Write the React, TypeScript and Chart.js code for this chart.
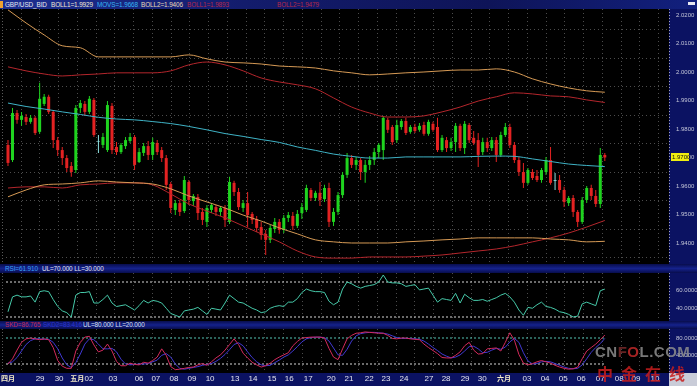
import React, { useEffect, useRef } from "react";
import { Chart, registerables } from "chart.js";

Chart.register(...registerables);

const FONT = '"Liberation Sans", Arial, sans-serif';
const CJK = '"Noto Sans CJK SC", sans-serif';

// ---------------- DATA ----------------
const openP = [
  1.9744, 1.9691, 1.9856, 1.9832, 1.9842, 1.9825, 1.9839, 1.979, 1.9888, 1.9913,
  1.986, 1.9761, 1.9726, 1.9698, 1.967, 1.9656, 1.9874, 1.9888, 1.986, 1.9902,
  1.9758, 1.9744, 1.9726, 1.9881, 1.9737, 1.9719, 1.974, 1.9758, 1.9772, 1.9684,
  1.9716, 1.974, 1.9709, 1.9751, 1.9726, 1.9698, 1.9607, 1.9516, 1.954, 1.9512,
  1.9614, 1.9547, 1.9561, 1.9509, 1.9474, 1.9516, 1.9526, 1.9509, 1.9523, 1.9474,
  1.9611, 1.9579, 1.9523, 1.954, 1.9502, 1.9484, 1.9456, 1.9432, 1.9411, 1.9449,
  1.9474, 1.9446, 1.9488, 1.9495, 1.946, 1.9505, 1.9516, 1.9586, 1.9558, 1.9576,
  1.9554, 1.9593, 1.9474, 1.9509, 1.9568, 1.9639, 1.9698, 1.9674, 1.9691, 1.9649,
  1.9674, 1.9691, 1.9719, 1.9726, 1.9832, 1.9807, 1.9761, 1.9807, 1.9828, 1.979,
  1.9807, 1.9797, 1.9814, 1.9783, 1.9818, 1.9807, 1.9726, 1.9761, 1.9733, 1.9754,
  1.9811, 1.9733, 1.9814, 1.9769, 1.9761, 1.9719, 1.9754, 1.9733, 1.9761, 1.9709,
  1.9779, 1.9807, 1.9744, 1.9691, 1.9649, 1.9611, 1.9649, 1.9635, 1.9621, 1.9649,
  1.9691, 1.9621, 1.9621, 1.9586, 1.954, 1.9558, 1.9509, 1.9474, 1.9551, 1.9593,
  1.9565, 1.9537, 1.9709,
];
const highP = [
  1.9761, 1.9874, 1.9867, 1.986, 1.9853, 1.9849, 1.9846, 1.9962, 1.9923, 1.992,
  1.9867, 1.9772, 1.9737, 1.9709, 1.9684, 1.9884, 1.9902, 1.9898, 1.9916, 1.9909,
  1.9779, 1.9786, 1.9898, 1.9891, 1.9754, 1.9751, 1.9772, 1.9786, 1.9779, 1.9733,
  1.9751, 1.9758, 1.9769, 1.9761, 1.9737, 1.9709, 1.9614, 1.9551, 1.9551, 1.9635,
  1.9621, 1.9572, 1.9572, 1.9523, 1.9533, 1.954, 1.9533, 1.953, 1.9533, 1.9632,
  1.9618, 1.9593, 1.9551, 1.9579, 1.9509, 1.9495, 1.9474, 1.9446, 1.9463, 1.9488,
  1.9484, 1.9498, 1.9509, 1.9509, 1.9516, 1.954, 1.9604, 1.9593, 1.9583, 1.9614,
  1.9604, 1.9611, 1.9523, 1.9579, 1.9649, 1.9716, 1.9709, 1.9702, 1.9698, 1.9691,
  1.9705, 1.9733, 1.9751, 1.9846, 1.9839, 1.9814, 1.9832, 1.9835, 1.9839, 1.9814,
  1.9818, 1.9821, 1.9825, 1.9832, 1.9825, 1.9839, 1.9779, 1.9772, 1.9769, 1.9821,
  1.9818, 1.9828, 1.9821, 1.9793, 1.9786, 1.9769, 1.9769, 1.9772, 1.9772, 1.979,
  1.9821, 1.9818, 1.9754, 1.9702, 1.9681, 1.9663, 1.966, 1.9656, 1.9663, 1.9702,
  1.9737, 1.9646, 1.9639, 1.9597, 1.9565, 1.9568, 1.9516, 1.9561, 1.96, 1.9604,
  1.9586, 1.9733, 1.9716,
];
const lowP = [
  1.967, 1.9684, 1.9818, 1.9811, 1.9814, 1.9818, 1.9779, 1.9783, 1.9881, 1.9853,
  1.9733, 1.9705, 1.9674, 1.9649, 1.9632, 1.9646, 1.9856, 1.9846, 1.9853, 1.9772,
  1.9716, 1.9733, 1.9719, 1.9712, 1.9709, 1.9712, 1.973, 1.9751, 1.9656, 1.9681,
  1.9705, 1.9691, 1.9691, 1.9709, 1.9684, 1.9586, 1.9505, 1.9498, 1.9495, 1.9505,
  1.9533, 1.953, 1.9481, 1.9463, 1.9456, 1.9505, 1.9495, 1.9495, 1.9456, 1.9467,
  1.9565, 1.9516, 1.9509, 1.9456, 1.9467, 1.9439, 1.9411, 1.9358, 1.94, 1.9435,
  1.9432, 1.9435, 1.9474, 1.9446, 1.9453, 1.9484, 1.9509, 1.9547, 1.9547, 1.953,
  1.9544, 1.9456, 1.946, 1.9498, 1.9558, 1.9628, 1.9663, 1.9656, 1.9621, 1.9611,
  1.9656, 1.9674, 1.9698, 1.9691, 1.9786, 1.9744, 1.9751, 1.9797, 1.9779, 1.9783,
  1.9786, 1.979, 1.9776, 1.9776, 1.979, 1.9719, 1.9719, 1.9719, 1.9723, 1.9719,
  1.9723, 1.9712, 1.9751, 1.9744, 1.9667, 1.9709, 1.9719, 1.9723, 1.9684, 1.9702,
  1.9772, 1.9733, 1.9681, 1.9635, 1.9593, 1.9604, 1.9621, 1.9614, 1.9611, 1.9639,
  1.9604, 1.9586, 1.9576, 1.9526, 1.953, 1.9491, 1.9456, 1.9467, 1.954, 1.9551,
  1.9526, 1.9523, 1.9688,
];
const closeP = [
  1.9681, 1.9856, 1.9832, 1.9846, 1.9825, 1.9839, 1.9786, 1.9906, 1.9913, 1.986,
  1.9761, 1.9726, 1.9698, 1.9663, 1.9649, 1.9874, 1.9891, 1.986, 1.9906, 1.9779,
  1.9756, 1.9772, 1.9884, 1.9726, 1.9719, 1.9744, 1.9761, 1.9772, 1.9674, 1.9719,
  1.974, 1.9709, 1.9754, 1.9719, 1.9698, 1.9604, 1.9523, 1.954, 1.9509, 1.9621,
  1.9551, 1.9565, 1.9505, 1.9481, 1.9523, 1.9533, 1.9509, 1.9523, 1.9481, 1.9614,
  1.9579, 1.9526, 1.954, 1.9498, 1.9481, 1.9453, 1.9428, 1.9411, 1.9453, 1.9474,
  1.9446, 1.9488, 1.9498, 1.946, 1.9502, 1.9526, 1.9593, 1.9558, 1.9576, 1.9551,
  1.9593, 1.9474, 1.9509, 1.9568, 1.9639, 1.9698, 1.9674, 1.9691, 1.9649, 1.9674,
  1.9691, 1.9719, 1.9744, 1.9839, 1.9797, 1.9754, 1.9814, 1.9828, 1.9786, 1.9807,
  1.9793, 1.9811, 1.9783, 1.9825, 1.9797, 1.9726, 1.9769, 1.9733, 1.9754, 1.9811,
  1.9733, 1.9818, 1.9761, 1.9751, 1.9709, 1.9754, 1.9733, 1.9761, 1.9709, 1.9779,
  1.9807, 1.9744, 1.9691, 1.9649, 1.9611, 1.9656, 1.9628, 1.9621, 1.9656, 1.9691,
  1.9611, 1.9618, 1.9586, 1.9544, 1.9558, 1.9509, 1.9474, 1.9551, 1.9593, 1.9565,
  1.9537, 1.9709, 1.97,
];

// indicator samples (every 4th bar)
const bandIdx = [
  0, 4, 8, 12, 16, 20, 24, 28, 32, 36, 40, 44, 48, 52, 56, 60, 64, 68, 72, 76,
  80, 84, 88, 92, 96, 100, 104, 108, 112, 116, 120, 124, 128, 132,
];
const boll1Upper = [
  2.0218, 2.0172, 2.013, 2.0092, 2.0085, 2.0053, 2.0053, 2.0053, 2.0053, 2.0053,
  2.006, 2.0046, 2.0035, 2.0032, 2.0028, 2.0021, 2.0018, 2.0014, 2.0004, 1.9997,
  1.999, 1.9993, 1.9997, 2.0, 2.0004, 2.0007, 2.0007, 2.0011, 2.0, 1.9976,
  1.9958, 1.9944, 1.9934, 1.9929,
];
const boll1Lower = [
  1.9562, 1.9586, 1.9604, 1.9607, 1.9611, 1.9618, 1.9614, 1.9611, 1.9607, 1.959,
  1.9565, 1.9544, 1.9523, 1.9498, 1.9477, 1.9453, 1.9432, 1.9411, 1.9404, 1.94,
  1.94, 1.94, 1.9404, 1.9407, 1.9411, 1.9414, 1.9418, 1.9418, 1.9418, 1.9418,
  1.9414, 1.9411, 1.9404, 1.9406,
];
const boll2Upper = [
  2.0018, 2.0004, 1.9993, 1.9986, 1.999, 1.9993, 1.9997, 1.9997, 1.9997, 2.0004,
  2.0025, 2.0035, 2.0025, 2.0004, 1.9979, 1.9965, 1.9955, 1.9941, 1.9909, 1.9877,
  1.9856, 1.9842, 1.9842, 1.9846, 1.986, 1.9877, 1.9898, 1.9913, 1.9927, 1.9923,
  1.9916, 1.9913, 1.9902, 1.9893,
];
const boll2Lower = [
  1.9593, 1.9597, 1.9597, 1.9593, 1.9604, 1.9607, 1.9611, 1.9611, 1.9604, 1.9572,
  1.9537, 1.9512, 1.9488, 1.946, 1.9432, 1.9404, 1.9372, 1.9351, 1.9347, 1.9347,
  1.9351, 1.9351, 1.9351, 1.9354, 1.9358, 1.9365, 1.9372, 1.9379, 1.939, 1.9404,
  1.9418, 1.9435, 1.9456, 1.9479,
];
const movs = [
  1.9891, 1.9879, 1.987, 1.986, 1.9851, 1.9841, 1.9835, 1.9832, 1.9826, 1.9819,
  1.9809, 1.9797, 1.9784, 1.9774, 1.9763, 1.9753, 1.9737, 1.9725, 1.9712, 1.9704,
  1.9698, 1.9698, 1.9702, 1.9702, 1.9702, 1.9702, 1.9704, 1.9705, 1.9704, 1.9695,
  1.9686, 1.9677, 1.9672, 1.9668,
];

const rsiValues = [
  36, 53, 55, 53, 53, 54, 47, 59, 60, 59,
  50, 42, 37, 35, 30, 55, 58, 58, 59, 46,
  46, 50, 55, 46, 42, 43, 44, 41, 38, 43,
  49, 46, 49, 48, 46, 40, 34, 32, 30, 37,
  38, 39, 41, 37, 33, 40, 39, 38, 46, 55,
  51, 47, 46, 43, 40, 38, 35, 36, 40, 42,
  43, 42, 47, 47, 51, 58, 62, 60, 59, 59,
  58, 48, 44, 47, 62, 70, 68, 65, 63, 65,
  66, 67, 70, 78, 70, 69, 69, 68, 65, 66,
  67, 61, 62, 63, 55, 47, 51, 50, 49, 57,
  46, 56, 52, 49, 49, 50, 48, 50, 52, 55,
  57, 53, 47, 38, 32, 41, 40, 44, 47, 42,
  41, 39, 36, 35, 33, 30, 31, 45, 47, 45,
  43, 60, 61.91,
];
const kdK = [
  20, 32, 52, 70, 78, 80, 78, 76, 78, 76,
  58, 28, 15, 10, 10, 50, 70, 82, 84, 64,
  48, 52, 66, 50, 26, 16, 16, 22, 19, 18,
  24, 22, 28, 36, 55, 40, 14, 7, 8, 10,
  12, 13, 18, 21, 17, 25, 34, 41, 52, 65,
  78, 65, 45, 34, 24, 18, 13, 16, 22, 30,
  36, 41, 46, 62, 72, 80, 81, 82, 82, 82,
  80, 56, 36, 30, 55, 78, 86, 91, 92, 94,
  93, 92, 91, 91, 86, 79, 78, 80, 80, 78,
  77, 76, 66, 58, 51, 44, 35, 34, 34, 40,
  48, 62, 70, 52, 43, 44, 55, 56, 57, 50,
  70, 92, 75, 42, 22, 18, 21, 25, 28, 25,
  22, 17, 13, 10, 8, 9, 13, 32, 50, 58,
  66, 76, 86.77,
];
const kdD = [
  22, 25, 35, 50, 65, 74, 78, 78, 77, 77,
  70, 55, 34, 18, 12, 23, 43, 66, 78, 76,
  66, 55, 55, 56, 48, 31, 20, 18, 19, 20,
  20, 21, 25, 29, 40, 44, 36, 20, 10, 8,
  10, 12, 14, 17, 19, 21, 26, 33, 42, 53,
  65, 69, 62, 48, 35, 25, 18, 16, 17, 23,
  29, 36, 41, 50, 60, 71, 78, 81, 82, 82,
  81, 73, 57, 41, 40, 54, 73, 85, 90, 92,
  93, 93, 92, 91, 89, 85, 81, 79, 79, 79,
  78, 77, 73, 66, 58, 51, 43, 38, 34, 36,
  41, 50, 60, 61, 55, 46, 47, 52, 56, 54,
  59, 71, 79, 70, 46, 27, 20, 21, 25, 26,
  25, 21, 17, 13, 10, 9, 10, 18, 32, 47,
  58, 67, 79,
];

const rsiUL = 70;
const rsiLL = 30;
const kdUL = 80;
const kdLL = 20;

const dayLabels = [
  "四月", "29", "30", "五月", "02", "03", "06", "07", "08", "09", "10", "13",
  "14", "15", "16", "17", "20", "21", "22", "23", "24", "27", "28", "29", "30",
  "六月", "03", "04", "05", "06", "07", "08", "09", "10",
];
const dayTicks = [
  0, 7.1, 11.3, 15.3, 17.9, 23.2, 29.0, 32.7, 36.7, 40.7, 44.7, 50.2, 54.2,
  58.4, 62.2, 66.4, 71.5, 75.4, 79.9, 83.6, 87.6, 93.1, 96.9, 101.1, 104.9,
  109.7, 114.8, 118.8, 122.8, 126.8, 131.0, 135.2, 138.9, 143.1,
];
const priceLabels = [1.94, 1.95, 1.96, 1.97, 1.98, 1.99, 2.0, 2.01, 2.02];
const priceGrid = [1.935, 1.945, 1.955, 1.965, 1.975, 1.985, 1.995, 2.005, 2.015];
const rsiLabels = [60, 40];
const kdLabels = [80, 40];

// ---------------- LAYOUT / STYLE ----------------
const X_MIN = -0.44;
const X_MAX = 146.2;
const AXIS_W = 28;
const NAVY = "#0b1262";
const VGRID_START = 2.77;
const VGRID_STEP = 4.148;

const panelPlugin = {
  id: "panel",
  beforeDraw(chart: any, _a: any, opts: any) {
    const { ctx, width, height, chartArea: a } = chart;
    ctx.save();
    ctx.fillStyle = "#000";
    ctx.fillRect(0, 0, width, height);
    ctx.fillStyle = NAVY;
    ctx.fillRect(a.right, 0, width - a.right, height);
    if (opts.xBand) ctx.fillRect(0, a.bottom, width, height - a.bottom);
    ctx.lineWidth = 1;
    ctx.setLineDash([1, 2]);
    ctx.strokeStyle = "#5a5a5a";
    ctx.beginPath();
    ctx.moveTo(2.5, a.top);
    ctx.lineTo(2.5, a.bottom);
    ctx.stroke();
    ctx.strokeStyle = "#a0a2b8";
    ctx.beginPath();
    ctx.moveTo(a.right + 0.5, a.top);
    ctx.lineTo(a.right + 0.5, a.bottom);
    ctx.stroke();
    ctx.restore();
  },
  beforeDatasetsDraw(chart: any, _a: any, opts: any) {
    const { ctx, chartArea: a, scales } = chart;
    ctx.save();
    ctx.lineWidth = 1;
    ctx.setLineDash([1, 3]);
    ctx.strokeStyle = "#4c4c4c";
    for (let v = VGRID_START; v < X_MAX; v += VGRID_STEP) {
      const px = Math.round(scales.x.getPixelForValue(v)) + 0.5;
      ctx.beginPath();
      ctx.moveTo(px, a.top);
      ctx.lineTo(px, a.bottom);
      ctx.stroke();
    }
    const hg: number[] = opts.hGrid || [];
    hg.forEach((v) => {
      const py = Math.round(scales.y.getPixelForValue(v)) + 0.5;
      ctx.beginPath();
      ctx.moveTo(a.left, py);
      ctx.lineTo(a.right, py);
      ctx.stroke();
    });
    ctx.restore();
  },
};

const lastPricePlugin = {
  id: "lastPrice",
  afterDraw(chart: any) {
    const { ctx, chartArea: a, scales } = chart;
    const last = closeP[closeP.length - 1];
    const y = scales.y.getPixelForValue(last);
    ctx.save();
    ctx.fillStyle = "#f0ee10";
    ctx.fillRect(a.right + 2, Math.round(y) - 4, 18, 8);
    ctx.fillStyle = "#101010";
    ctx.font = `6px ${FONT}`;
    ctx.textBaseline = "middle";
    ctx.fillText(last.toFixed(4), a.right + 3, Math.round(y));
    ctx.restore();
  },
};

function yAxis(min: number, max: number, labels: number[]) {
  return {
    position: "right",
    min,
    max,
    afterBuildTicks: (ax: any) => {
      ax.ticks = labels.map((v) => ({ value: v }));
    },
    afterFit: (ax: any) => {
      ax.width = AXIS_W;
      ax.paddingTop = 0;
      ax.paddingBottom = 0;
    },
    grid: { display: false, drawTicks: false },
    border: { display: false },
    ticks: {
      autoSkip: false,
      padding: 7,
      color: "#c4c6d8",
      font: { size: 6, family: FONT },
      callback: (v: any) => Number(v).toFixed(4),
    },
  };
}

const baseOptions = {
  responsive: false,
  animation: false,
  devicePixelRatio: 1,
  events: [],
  layout: { padding: { left: 6, right: 0, top: 0, bottom: 0 } },
};

const candleColor = (i: number) => {
  const d = closeP[i] - openP[i];
  if (Math.abs(d) <= 0.0004) return "#8fe3e3";
  return d > 0 ? "#1fd31f" : "#e32222";
};

const lineDs = (data: { x: number; y: number }[], color: string, extra: any = {}) => ({
  type: "line",
  data,
  borderColor: color,
  borderWidth: 1,
  pointRadius: 0,
  fill: false,
  ...extra,
});

const bandPts = (arr: number[]) => bandIdx.map((x, k) => ({ x, y: arr[k] }));

function mainConfig(): any {
  const idx = closeP.map((_, i) => i);
  return {
    type: "bar",
    data: {
      datasets: [
        lineDs(bandPts(movs), "#3fb3c6", { cubicInterpolationMode: "monotone" }),
        lineDs(bandPts(boll1Upper), "#d69a55", { cubicInterpolationMode: "monotone" }),
        lineDs(bandPts(boll1Lower), "#d69a55", { cubicInterpolationMode: "monotone" }),
        lineDs(bandPts(boll2Upper), "#b4262c", { cubicInterpolationMode: "monotone" }),
        lineDs(bandPts(boll2Lower), "#b4262c", { cubicInterpolationMode: "monotone" }),
        {
          type: "bar",
          data: idx.map((i) => ({ x: i, y: [openP[i], closeP[i]] })),
          backgroundColor: (c: any) => candleColor(c.dataIndex),
          barThickness: 3,
          grouped: false,
          borderWidth: 0,
          inflateAmount: 0,
        },
        {
          type: "bar",
          data: idx.map((i) => ({ x: i, y: [lowP[i], highP[i]] })),
          backgroundColor: (c: any) => candleColor(c.dataIndex),
          barThickness: 1,
          grouped: false,
          borderWidth: 0,
          inflateAmount: 0,
        },
      ],
    },
    options: {
      ...baseOptions,
      plugins: {
        legend: { display: false },
        tooltip: { enabled: false },
        panel: { hGrid: priceGrid },
      },
      scales: {
        x: { type: "linear", min: X_MIN, max: X_MAX, display: false, offset: false },
        y: yAxis(1.93263, 2.0221, priceLabels),
      },
    },
    plugins: [panelPlugin, lastPricePlugin],
  };
}

function rsiConfig(): any {
  return {
    type: "line",
    data: {
      datasets: [
        lineDs(rsiValues.map((y, x) => ({ x, y })), "#46c9a9"),
        lineDs([{ x: X_MIN, y: rsiUL }, { x: closeP.length - 1, y: rsiUL }], "#d8d8d8", { borderDash: [2, 2] }),
        lineDs([{ x: X_MIN, y: rsiLL }, { x: closeP.length - 1, y: rsiLL }], "#d8d8d8", { borderDash: [2, 2] }),
      ],
    },
    options: {
      ...baseOptions,
      plugins: { legend: { display: false }, tooltip: { enabled: false }, panel: {} },
      scales: {
        x: { type: "linear", min: X_MIN, max: X_MAX, display: false, offset: false },
        y: yAxis(25.43, 80.29, rsiLabels),
      },
    },
    plugins: [panelPlugin],
  };
}

function kdConfig(): any {
  return {
    type: "line",
    data: {
      datasets: [
        lineDs(kdK.map((y, x) => ({ x, y })), "#d42a5c"),
        lineDs(kdD.map((y, x) => ({ x, y })), "#4038d2"),
        lineDs([{ x: X_MIN, y: kdUL }, { x: closeP.length - 1, y: kdUL }], "#55c4b4", { borderDash: [2, 2] }),
        lineDs([{ x: X_MIN, y: kdLL }, { x: closeP.length - 1, y: kdLL }], "#d8d8d8", { borderDash: [2, 2] }),
      ],
    },
    options: {
      ...baseOptions,
      plugins: { legend: { display: false }, tooltip: { enabled: false }, panel: { xBand: true } },
      scales: {
        x: {
          type: "linear",
          min: X_MIN,
          max: X_MAX,
          offset: false,
          position: "bottom",
          afterBuildTicks: (ax: any) => {
            ax.ticks = dayTicks.map((v) => ({ value: v }));
          },
          afterFit: (ax: any) => {
            ax.height = 13;
            ax.paddingLeft = 0;
            ax.paddingRight = 0;
          },
          grid: { display: false, drawTicks: false },
          border: { display: false },
          ticks: {
            autoSkip: false,
            maxRotation: 0,
            minRotation: 0,
            padding: 1,
            color: (c: any) => (/月/.test(dayLabels[c.index] || "") ? "#f6eec8" : "#e4e4ee"),
            font: (c: any) =>
              /月/.test(dayLabels[c.index] || "")
                ? { size: 7, family: CJK, weight: "bold" }
                : { size: 8, family: FONT },
            callback: (_v: any, i: number) => dayLabels[i],
          },
        },
        y: yAxis(-0.77, 100.77, kdLabels),
      },
    },
    plugins: [panelPlugin],
  };
}

const band = (top: number, h: number): React.CSSProperties => ({
  position: "absolute",
  left: 0,
  top,
  width: 697,
  height: h,
  background: "linear-gradient(to bottom, #080d4c, #15228c 50%, #080d4c)",
});

const txt = (left: number, color: string, h: number): React.CSSProperties => ({
  position: "absolute",
  left,
  top: 0,
  color,
  fontSize: 6.4,
  letterSpacing: -0.1,
  lineHeight: `${h}px`,
  fontFamily: FONT,
  whiteSpace: "nowrap",
});

export default function App() {
  const mainRef = useRef<HTMLCanvasElement>(null);
  const rsiRef = useRef<HTMLCanvasElement>(null);
  const kdRef = useRef<HTMLCanvasElement>(null);

  useEffect(() => {
    document.body.style.margin = "0";
    document.body.style.background = "#000";
    const charts = [
      new Chart(mainRef.current as HTMLCanvasElement, mainConfig()),
      new Chart(rsiRef.current as HTMLCanvasElement, rsiConfig()),
      new Chart(kdRef.current as HTMLCanvasElement, kdConfig()),
    ];
    return () => charts.forEach((c) => c.destroy());
  }, []);

  return (
    <div
      style={{
        position: "fixed",
        left: 0,
        top: 0,
        width: 697,
        height: 386,
        background: "#000",
        overflow: "hidden",
        fontFamily: FONT,
      }}
    >
      {/* top header */}
      <div
        style={{
          position: "absolute",
          left: 0,
          top: 0,
          width: 697,
          height: 9,
          background: "linear-gradient(to right, #1d2f92, #131c6c 35%, #0e1458 70%, #12207e)",
        }}
      >
        <div style={{ position: "absolute", left: 0, top: 1, width: 3, height: 7, background: "#f0a232" }} />
        <span style={txt(5, "#e8e8ee", 9)}>GBP/USD_BID</span>
        <span style={txt(51, "#f2e8d2", 9)}>BOLL1=1.9929</span>
        <span style={txt(97, "#36b6f2", 9)}>MOVS=1.9668</span>
        <span style={txt(141, "#eadbb6", 9)}>BOLL2=1.9406</span>
        <span style={txt(187, "#b3284a", 9)}>BOLL1=1.9893</span>
        <span style={txt(277, "#b3284a", 9)}>BOLL2=1.9479</span>
        <div style={{ position: "absolute", left: 688, top: 2, width: 7, height: 3, background: "#e8e8f0" }} />
      </div>

      <canvas
        ref={mainRef}
        width={697}
        height={255}
        style={{ position: "absolute", left: 0, top: 9, width: 697, height: 255 }}
      />

      <div style={band(264, 9)}>
        <span style={txt(5, "#3aa2f2", 9)}>RSI=61.910</span>
        <span style={txt(42, "#e2e4f2", 9)}>UL=70.000 LL=30.000</span>
      </div>

      <canvas
        ref={rsiRef}
        width={697}
        height={48}
        style={{ position: "absolute", left: 0, top: 273, width: 697, height: 48 }}
      />

      <div style={band(321, 8)}>
        <span style={txt(5, "#c42a52", 8)}>SKD=86.765</span>
        <span style={txt(43, "#2c34cc", 8)}>SKD2=83.416</span>
        <span style={txt(83, "#dce2f2", 8)}>UL=80.000 LL=20.000</span>
      </div>

      <canvas
        ref={kdRef}
        width={697}
        height={57}
        style={{ position: "absolute", left: 0, top: 329, width: 697, height: 57 }}
      />

      <div style={{ position: "absolute", left: 669, top: 373, width: 28, height: 13, background: "#c9ccd8" }} />

      {/* watermark */}
      <div
        style={{
          position: "absolute",
          left: 595,
          top: 343,
          fontFamily: FONT,
          fontWeight: "bold",
          fontSize: 15,
          lineHeight: "17px",
          letterSpacing: 0.5,
          color: "#8e8e8e",
          opacity: 0.85,
          whiteSpace: "nowrap",
          pointerEvents: "none",
        }}
      >
        CN<span style={{ color: "#7a2a2a" }}>F</span>
        <span style={{ color: "#c22a2a" }}>O</span>L.COM
      </div>
      <div
        style={{
          position: "absolute",
          left: 597,
          top: 362,
          fontFamily: CJK,
          fontWeight: "bold",
          fontSize: 16,
          lineHeight: "22px",
          letterSpacing: 8,
          color: "#c81e1e",
          opacity: 0.85,
          whiteSpace: "nowrap",
          pointerEvents: "none",
        }}
      >
        中金在线
      </div>
    </div>
  );
}
